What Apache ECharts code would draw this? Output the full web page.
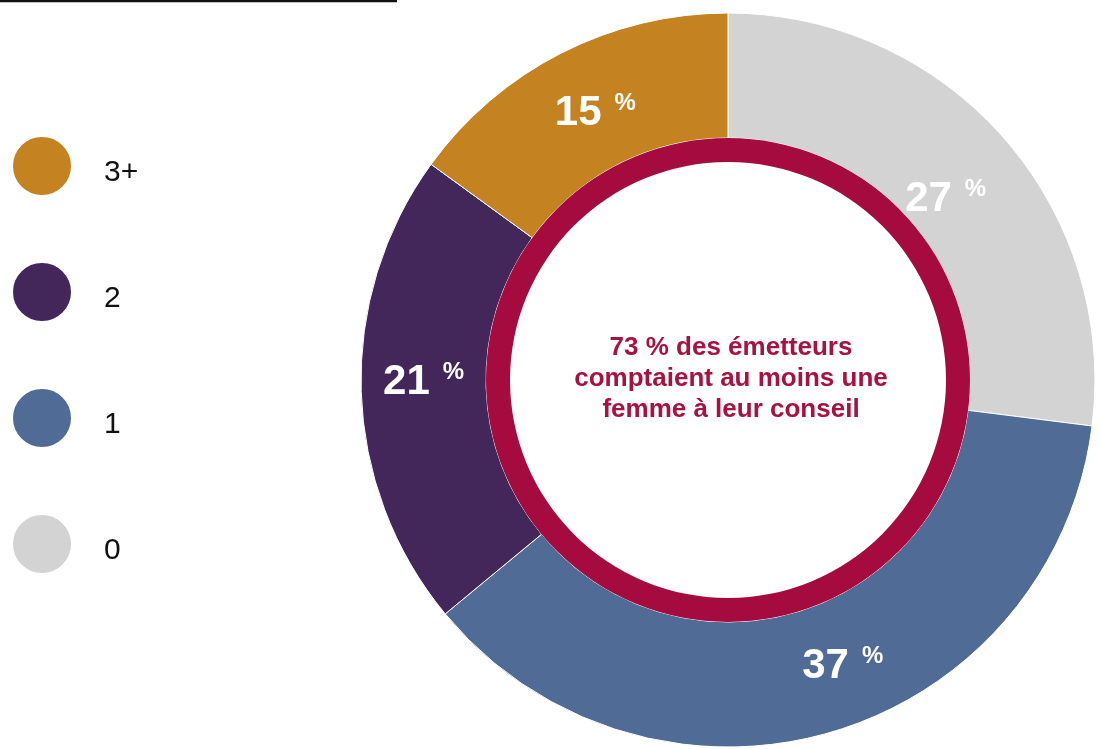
<!DOCTYPE html>
<html><head><meta charset="utf-8">
<script src="https://cdn.jsdelivr.net/npm/echarts@6/dist/echarts.min.js"></script>
<style>html,body{margin:0;padding:0;background:#fff}#c{width:1101px;height:749px}</style>
</head><body><div id="c"></div>
<script>
const categories = ['0', '1', '2', '3+'];
const values = [27, 37, 21, 15];
const colors = ['#D3D3D3', '#506C96', '#43265A', '#C58220'];
const legendOrder = ['3+', '2', '1', '0'];
const centerText = '73 % des émetteurs\ncomptaient au moins une\nfemme à leur conseil';

const chart = echarts.init(document.getElementById('c'));
const font = 'Helvetica, Arial, "Liberation Sans", sans-serif';
// fine-tuning of label placement (styling only)
const labelShift = [[-13, 23], [29, -9], [3, -7], [7, 7]];
chart.setOption({
  animation: false,
  title: {
    text: centerText,
    left: 731, top: 332, textAlign: 'center', padding: 0,
    textStyle: { color: '#A8123F', fontSize: 26, fontWeight: 'bold', fontFamily: font, lineHeight: 31 }
  },
  legend: {
    orient: 'vertical', left: 11, top: 135, padding: 0,
    data: legendOrder, icon: 'circle', itemWidth: 60, itemHeight: 60, itemGap: 64,
    formatter: n => '{t|' + n + '}',
    textStyle: {
      fontSize: 30, color: '#111', fontFamily: font, padding: [0, 0, 0, 27],
      rich: { t: { fontSize: 30, color: '#111', fontFamily: font, padding: [14, 0, 0, 0] } }
    },
    selectedMode: false
  },
  graphic: [{ type: 'line', shape: { x1: 0, y1: 1, x2: 397, y2: 1 }, style: { stroke: '#111', lineWidth: 2.5 } }],
  series: [
    {
      type: 'pie', center: [728, 380], radius: [242, 367], startAngle: 90, clockwise: true,
      silent: true,
      itemStyle: { borderColor: '#fff', borderWidth: 1 },
      label: {
        show: true, position: 'inside',
        formatter: p => '{n|' + p.value + '}{p|%}',
        rich: {
          n: { fontSize: 42, fontWeight: 'bold', color: '#fff', fontFamily: font, lineHeight: 44 },
          p: { fontSize: 24, fontWeight: 'bold', color: '#fff', fontFamily: font, verticalAlign: 'top', padding: [0, 0, 16, 13] }
        }
      },
      labelLine: { show: false },
      data: categories.map((c, i) => ({ name: c, value: values[i], itemStyle: { color: colors[i] }, label: { offset: labelShift[i] } }))
    },
    {
      type: 'pie', center: [728, 380], radius: [218, 242], silent: true,
      label: { show: false }, labelLine: { show: false },
      data: [{ name: 'ring', value: 1, itemStyle: { color: '#A50B3E' } }]
    }
  ]
});
</script></body></html>
